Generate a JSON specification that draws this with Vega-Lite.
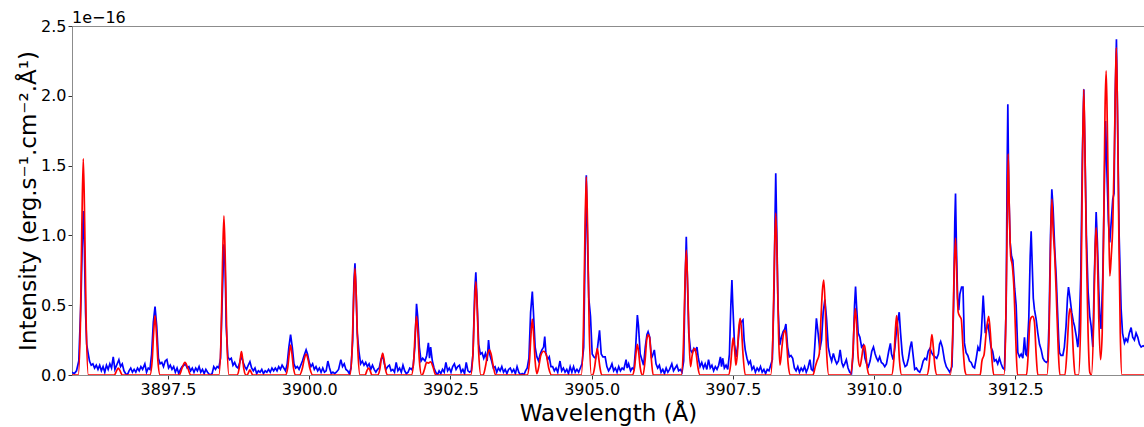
{
"$schema": "https://vega.github.io/schema/vega-lite/v6.json",
"width": 1072,
"height": 349,
"autosize": {"type": "none"},
"padding": {"left": 72, "top": 26, "right": 0, "bottom": 52},
"background": "white",
"title": {"text": "1e−16", "anchor": "start", "frame": "group", "fontSize": 16, "fontWeight": "normal", "font": "DejaVu Sans", "color": "#000000", "offset": -8},
"config": {
  "view": {"stroke": "#8c8c8c", "strokeWidth": 1},
  "axis": {"grid": false, "labelFont": "DejaVu Sans", "titleFont": "DejaVu Sans", "labelFontSize": 16, "titleFontSize": 23, "titleFontWeight": "normal", "labelColor": "#000000", "titleColor": "#000000", "domainColor": "#8c8c8c", "tickColor": "#333333", "tickSize": 4, "labelPadding": 2}
},
"datasets": {
"obs": [
{"w":3895.80,"i":0.02},{"w":3895.84,"i":0.01},{"w":3895.88,"i":0.03},{"w":3895.92,"i":0.10},{"w":3895.96,"i":0.55},{"w":3895.985,"i":1.0},{"w":3896.00,"i":1.175},{"w":3896.02,"i":0.9},{"w":3896.04,"i":0.45},{"w":3896.06,"i":0.22},{"w":3896.08,"i":0.17},{"w":3896.11,"i":0.10},{"w":3896.14,"i":0.07},{"w":3896.17,"i":0.08},{"w":3896.20,"i":0.05},{"w":3896.23,"i":0.07},{"w":3896.26,"i":0.04},{"w":3896.29,"i":0.07},{"w":3896.32,"i":0.03},{"w":3896.35,"i":0.06},{"w":3896.38,"i":0.02},{"w":3896.41,"i":0.07},{"w":3896.44,"i":0.04},{"w":3896.47,"i":0.08},{"w":3896.50,"i":0.05},{"w":3896.53,"i":0.13},{"w":3896.56,"i":0.04},{"w":3896.59,"i":0.07},{"w":3896.63,"i":0.11},{"w":3896.66,"i":0.06},{"w":3896.69,"i":0.08},{"w":3896.72,"i":0.03},{"w":3896.75,"i":0.01},{"w":3896.78,"i":0.0},{"w":3896.81,"i":0.03},{"w":3896.84,"i":0.05},{"w":3896.87,"i":0.02},{"w":3896.90,"i":0.04},{"w":3896.93,"i":0.02},{"w":3896.96,"i":0.05},{"w":3896.99,"i":0.03},{"w":3897.02,"i":0.06},{"w":3897.05,"i":0.04},{"w":3897.09,"i":0.08},{"w":3897.12,"i":0.02},{"w":3897.15,"i":0.05},{"w":3897.18,"i":0.04},{"w":3897.21,"i":0.15},{"w":3897.24,"i":0.38},{"w":3897.27,"i":0.49},{"w":3897.30,"i":0.35},{"w":3897.33,"i":0.12},{"w":3897.36,"i":0.08},{"w":3897.39,"i":0.09},{"w":3897.42,"i":0.06},{"w":3897.45,"i":0.10},{"w":3897.48,"i":0.11},{"w":3897.51,"i":0.05},{"w":3897.54,"i":0.07},{"w":3897.57,"i":0.04},{"w":3897.60,"i":0.06},{"w":3897.63,"i":0.02},{"w":3897.66,"i":0.05},{"w":3897.69,"i":0.01},{"w":3897.72,"i":0.04},{"w":3897.75,"i":0.06},{"w":3897.78,"i":0.07},{"w":3897.81,"i":0.08},{"w":3897.84,"i":0.05},{"w":3897.87,"i":0.06},{"w":3897.90,"i":0.03},{"w":3897.93,"i":0.05},{"w":3897.96,"i":0.02},{"w":3897.99,"i":0.05},{"w":3898.02,"i":0.03},{"w":3898.05,"i":0.06},{"w":3898.08,"i":0.02},{"w":3898.11,"i":0.04},{"w":3898.14,"i":0.01},{"w":3898.17,"i":0.04},{"w":3898.20,"i":0.02},{"w":3898.24,"i":0.0},{"w":3898.28,"i":0.01},{"w":3898.31,"i":0.06},{"w":3898.34,"i":0.04},{"w":3898.37,"i":0.06},{"w":3898.40,"i":0.05},{"w":3898.43,"i":0.12},{"w":3898.46,"i":0.55},{"w":3898.49,"i":0.936},{"w":3898.51,"i":0.8},{"w":3898.53,"i":0.35},{"w":3898.56,"i":0.13},{"w":3898.59,"i":0.11},{"w":3898.62,"i":0.12},{"w":3898.65,"i":0.07},{"w":3898.68,"i":0.09},{"w":3898.71,"i":0.06},{"w":3898.74,"i":0.05},{"w":3898.77,"i":0.09},{"w":3898.80,"i":0.14},{"w":3898.83,"i":0.09},{"w":3898.86,"i":0.06},{"w":3898.89,"i":0.04},{"w":3898.92,"i":0.07},{"w":3898.95,"i":0.095},{"w":3898.98,"i":0.05},
{"w":3899.01,"i":0.03},{"w":3899.04,"i":0.05},{"w":3899.07,"i":0.01},{"w":3899.10,"i":0.03},{"w":3899.13,"i":0.02},{"w":3899.16,"i":0.04},{"w":3899.19,"i":0.01},{"w":3899.22,"i":0.03},{"w":3899.25,"i":0.02},{"w":3899.28,"i":0.04},{"w":3899.31,"i":0.02},{"w":3899.34,"i":0.05},{"w":3899.37,"i":0.03},{"w":3899.40,"i":0.05},{"w":3899.43,"i":0.03},{"w":3899.46,"i":0.06},{"w":3899.49,"i":0.04},{"w":3899.52,"i":0.07},{"w":3899.55,"i":0.05},{"w":3899.58,"i":0.03},{"w":3899.61,"i":0.08},{"w":3899.64,"i":0.2},{"w":3899.67,"i":0.29},{"w":3899.70,"i":0.2},{"w":3899.73,"i":0.08},{"w":3899.76,"i":0.05},{"w":3899.79,"i":0.06},{"w":3899.82,"i":0.04},{"w":3899.85,"i":0.07},{"w":3899.88,"i":0.1},{"w":3899.91,"i":0.14},{"w":3899.945,"i":0.18},{"w":3899.97,"i":0.15},{"w":3900.00,"i":0.09},{"w":3900.03,"i":0.06},{"w":3900.06,"i":0.08},{"w":3900.09,"i":0.04},{"w":3900.12,"i":0.06},{"w":3900.15,"i":0.03},{"w":3900.18,"i":0.05},{"w":3900.21,"i":0.02},{"w":3900.24,"i":0.05},{"w":3900.27,"i":0.02},{"w":3900.30,"i":0.03},{"w":3900.33,"i":0.10},{"w":3900.36,"i":0.05},{"w":3900.39,"i":0.01},{"w":3900.42,"i":0.02},{"w":3900.45,"i":0.01},{"w":3900.48,"i":0.02},{"w":3900.52,"i":0.04},{"w":3900.56,"i":0.11},{"w":3900.59,"i":0.06},{"w":3900.62,"i":0.08},{"w":3900.65,"i":0.04},{"w":3900.68,"i":0.03},{"w":3900.71,"i":0.01},{"w":3900.74,"i":0.05},{"w":3900.77,"i":0.25},{"w":3900.79,"i":0.65},{"w":3900.81,"i":0.80},{"w":3900.83,"i":0.6},{"w":3900.85,"i":0.3},{"w":3900.88,"i":0.17},{"w":3900.91,"i":0.08},{"w":3900.94,"i":0.1},{"w":3900.97,"i":0.07},{"w":3901.00,"i":0.09},{"w":3901.03,"i":0.06},{"w":3901.06,"i":0.08},{"w":3901.09,"i":0.04},{"w":3901.12,"i":0.07},{"w":3901.15,"i":0.04},{"w":3901.18,"i":0.02},{"w":3901.21,"i":0.04},{"w":3901.24,"i":0.05},{"w":3901.27,"i":0.11},{"w":3901.30,"i":0.14},{"w":3901.33,"i":0.08},{"w":3901.36,"i":0.04},{"w":3901.39,"i":0.06},{"w":3901.42,"i":0.07},{"w":3901.45,"i":0.03},{"w":3901.48,"i":0.04},{"w":3901.51,"i":0.02},{"w":3901.54,"i":0.09},{"w":3901.57,"i":0.03},{"w":3901.60,"i":0.05},{"w":3901.63,"i":0.02},{"w":3901.66,"i":0.07},{"w":3901.69,"i":0.03},{"w":3901.72,"i":0.01},{"w":3901.75,"i":0.02},{"w":3901.78,"i":0.05},{"w":3901.81,"i":0.04},{"w":3901.84,"i":0.06},{"w":3901.87,"i":0.2},{"w":3901.90,"i":0.51},{"w":3901.92,"i":0.42},{"w":3901.95,"i":0.2},{"w":3901.98,"i":0.1},{"w":3902.01,"i":0.12},{"w":3902.05,"i":0.1},{"w":3902.08,"i":0.14},{"w":3902.11,"i":0.23},{"w":3902.13,"i":0.12},{"w":3902.15,"i":0.2},{"w":3902.18,"i":0.1},{"w":3902.21,"i":0.05},{"w":3902.24,"i":0.02},{"w":3902.27,"i":0.0},{"w":3902.30,"i":0.03},{"w":3902.33,"i":0.01},{"w":3902.36,"i":0.04},{"w":3902.39,"i":0.02},{"w":3902.42,"i":0.09},{"w":3902.45,"i":0.03},{"w":3902.48,"i":0.05},{"w":3902.51,"i":0.02},{"w":3902.54,"i":0.06},{"w":3902.57,"i":0.08},{"w":3902.60,"i":0.04},{"w":3902.63,"i":0.06},{"w":3902.66,"i":0.07},{"w":3902.69,"i":0.02},{"w":3902.72,"i":0.04},{"w":3902.75,"i":0.01},{"w":3902.78,"i":0.09},{"w":3902.81,"i":0.03},{"w":3902.84,"i":0.02},{"w":3902.87,"i":0.03},{"w":3902.90,"i":0.15},{"w":3902.93,"i":0.6},{"w":3902.95,"i":0.735},{"w":3902.97,"i":0.55},{"w":3903.00,"i":0.22},{"w":3903.03,"i":0.15},{"w":3903.06,"i":0.16},{"w":3903.09,"i":0.12},{"w":3903.12,"i":0.155},{"w":3903.15,"i":0.1},{"w":3903.175,"i":0.25},{"w":3903.20,"i":0.14},{"w":3903.23,"i":0.1},{"w":3903.26,"i":0.05},{"w":3903.29,"i":0.06},{"w":3903.32,"i":0.02},{"w":3903.35,"i":0.05},{"w":3903.38,"i":0.03},{"w":3903.41,"i":0.06},{"w":3903.44,"i":0.02},{"w":3903.47,"i":0.04},{"w":3903.50,"i":0.01},{"w":3903.53,"i":0.04},{"w":3903.56,"i":0.05},{"w":3903.59,"i":0.02},{"w":3903.62,"i":0.04},{"w":3903.65,"i":0.01},{"w":3903.68,"i":0.06},{"w":3903.71,"i":0.02},{"w":3903.74,"i":0.0},{"w":3903.77,"i":0.01},{"w":3903.80,"i":0.0},{"w":3903.83,"i":0.03},{"w":3903.86,"i":0.05},{"w":3903.89,"i":0.12},{"w":3903.92,"i":0.45},{"w":3903.95,"i":0.597},{"w":3903.97,"i":0.45},{"w":3904.00,"i":0.2},{"w":3904.03,"i":0.13},{"w":3904.06,"i":0.1},{"w":3904.09,"i":0.15},{"w":3904.12,"i":0.18},{"w":3904.15,"i":0.2},{"w":3904.17,"i":0.275},{"w":3904.19,"i":0.16},{"w":3904.22,"i":0.11},{"w":3904.25,"i":0.13},{"w":3904.28,"i":0.06},{"w":3904.31,"i":0.06},{"w":3904.34,"i":0.03},{"w":3904.37,"i":0.05},{"w":3904.40,"i":0.02},{"w":3904.44,"i":0.10},{"w":3904.47,"i":0.03},{"w":3904.50,"i":0.05},{"w":3904.53,"i":0.02},{"w":3904.56,"i":0.04},{"w":3904.59,"i":0.01},{"w":3904.62,"i":0.06},{"w":3904.65,"i":0.02},{"w":3904.68,"i":0.06},{"w":3904.71,"i":0.02},{"w":3904.74,"i":0.04},{"w":3904.77,"i":0.02},{"w":3904.80,"i":0.05},{"w":3904.83,"i":0.08},{"w":3904.86,"i":0.2},{"w":3904.885,"i":0.9},{"w":3904.906,"i":1.43},{"w":3904.93,"i":0.9},{"w":3904.95,"i":0.55},{"w":3904.98,"i":0.42},{"w":3905.01,"i":0.15},{"w":3905.04,"i":0.13},{"w":3905.07,"i":0.12},{"w":3905.10,"i":0.18},{"w":3905.14,"i":0.32},{"w":3905.17,"i":0.15},{"w":3905.20,"i":0.13},
{"w":3905.24,"i":0.13},{"w":3905.27,"i":0.06},{"w":3905.30,"i":0.03},{"w":3905.33,"i":0.05},{"w":3905.36,"i":0.08},{"w":3905.39,"i":0.03},{"w":3905.42,"i":0.05},{"w":3905.45,"i":0.02},{"w":3905.48,"i":0.06},{"w":3905.51,"i":0.03},{"w":3905.54,"i":0.05},{"w":3905.57,"i":0.04},{"w":3905.61,"i":0.11},{"w":3905.63,"i":0.05},{"w":3905.655,"i":0.08},{"w":3905.69,"i":0.03},{"w":3905.72,"i":0.05},{"w":3905.75,"i":0.04},{"w":3905.78,"i":0.2},{"w":3905.81,"i":0.43},{"w":3905.83,"i":0.35},{"w":3905.86,"i":0.15},{"w":3905.89,"i":0.11},{"w":3905.92,"i":0.07},{"w":3905.95,"i":0.2},{"w":3905.98,"i":0.29},{"w":3906.00,"i":0.31},{"w":3906.03,"i":0.27},{"w":3906.06,"i":0.12},{"w":3906.08,"i":0.14},{"w":3906.11,"i":0.18},{"w":3906.14,"i":0.08},{"w":3906.17,"i":0.05},{"w":3906.20,"i":0.07},{"w":3906.23,"i":0.02},{"w":3906.26,"i":0.04},{"w":3906.29,"i":0.01},{"w":3906.32,"i":0.05},{"w":3906.35,"i":0.02},{"w":3906.38,"i":0.04},{"w":3906.42,"i":0.08},{"w":3906.45,"i":0.03},{"w":3906.48,"i":0.05},{"w":3906.51,"i":0.07},{"w":3906.54,"i":0.03},{"w":3906.57,"i":0.04},{"w":3906.60,"i":0.02},{"w":3906.63,"i":0.1},{"w":3906.655,"i":0.65},{"w":3906.676,"i":0.99},{"w":3906.695,"i":0.7},{"w":3906.72,"i":0.3},{"w":3906.75,"i":0.18},{"w":3906.78,"i":0.16},{"w":3906.81,"i":0.19},{"w":3906.84,"i":0.17},{"w":3906.865,"i":0.2},{"w":3906.89,"i":0.12},{"w":3906.92,"i":0.06},{"w":3906.95,"i":0.09},{"w":3906.98,"i":0.05},{"w":3907.01,"i":0.08},{"w":3907.04,"i":0.04},{"w":3907.07,"i":0.11},{"w":3907.10,"i":0.05},{"w":3907.13,"i":0.07},{"w":3907.16,"i":0.03},{"w":3907.19,"i":0.06},{"w":3907.22,"i":0.04},{"w":3907.25,"i":0.07},{"w":3907.28,"i":0.13},{"w":3907.30,"i":0.06},{"w":3907.32,"i":0.12},{"w":3907.35,"i":0.05},{"w":3907.38,"i":0.07},{"w":3907.41,"i":0.04},{"w":3907.44,"i":0.15},{"w":3907.465,"i":0.5},{"w":3907.484,"i":0.68},{"w":3907.50,"i":0.5},{"w":3907.53,"i":0.22},{"w":3907.56,"i":0.13},{"w":3907.59,"i":0.22},{"w":3907.62,"i":0.36},{"w":3907.65,"i":0.38},{"w":3907.68,"i":0.394},{"w":3907.70,"i":0.25},{"w":3907.72,"i":0.18},{"w":3907.75,"i":0.12},{"w":3907.78,"i":0.08},{"w":3907.81,"i":0.1},{"w":3907.84,"i":0.04},{"w":3907.87,"i":0.06},{"w":3907.90,"i":0.02},{"w":3907.93,"i":0.05},{"w":3907.96,"i":0.03},{"w":3907.99,"i":0.06},{"w":3908.02,"i":0.02},{"w":3908.05,"i":0.04},{"w":3908.08,"i":0.01},{"w":3908.11,"i":0.04},{"w":3908.14,"i":0.03},{"w":3908.17,"i":0.07},{"w":3908.20,"i":0.11},{"w":3908.23,"i":0.6},{"w":3908.25,"i":1.2},{"w":3908.26,"i":1.445},{"w":3908.275,"i":1.1},{"w":3908.30,"i":0.5},{"w":3908.33,"i":0.215},{"w":3908.36,"i":0.27},{"w":3908.39,"i":0.31},{"w":3908.42,"i":0.33},{"w":3908.44,"i":0.365},{"w":3908.47,"i":0.2},{"w":3908.50,"i":0.13},{"w":3908.53,"i":0.14},{"w":3908.56,"i":0.12},{"w":3908.59,"i":0.05},{"w":3908.62,"i":0.03},{"w":3908.65,"i":0.06},{"w":3908.68,"i":0.02},{"w":3908.71,"i":0.05},{"w":3908.74,"i":0.03},{"w":3908.77,"i":0.06},{"w":3908.80,"i":0.02},{"w":3908.83,"i":0.05},{"w":3908.865,"i":0.11},{"w":3908.89,"i":0.04},{"w":3908.92,"i":0.03},{"w":3908.95,"i":0.2},{"w":3908.98,"i":0.406},{"w":3909.01,"i":0.3},{"w":3909.04,"i":0.18},{"w":3909.07,"i":0.25},{"w":3909.10,"i":0.45},{"w":3909.13,"i":0.54},{"w":3909.16,"i":0.4},{"w":3909.19,"i":0.2},{"w":3909.22,"i":0.14},{"w":3909.25,"i":0.1},{"w":3909.28,"i":0.155},{"w":3909.31,"i":0.11},{"w":3909.34,"i":0.08},{"w":3909.37,"i":0.1},{"w":3909.40,"i":0.18},{"w":3909.43,"i":0.09},{"w":3909.455,"i":0.06},{"w":3909.48,"i":0.08},{"w":3909.51,"i":0.11},{"w":3909.54,"i":0.05},{"w":3909.57,"i":0.02},{"w":3909.60,"i":0.01},{"w":3909.63,"i":0.15},{"w":3909.655,"i":0.5},{"w":3909.673,"i":0.633},{"w":3909.69,"i":0.5},{"w":3909.72,"i":0.3},{"w":3909.75,"i":0.27},{"w":3909.78,"i":0.2},{"w":3909.81,"i":0.215},{"w":3909.84,"i":0.12},{"w":3909.87,"i":0.08},{"w":3909.90,"i":0.06},{"w":3909.93,"i":0.1},{"w":3909.96,"i":0.17},{"w":3909.99,"i":0.2},{"w":3910.02,"i":0.15},{"w":3910.045,"i":0.12},{"w":3910.07,"i":0.1},{"w":3910.10,"i":0.13},{"w":3910.13,"i":0.09},{"w":3910.16,"i":0.08},{"w":3910.19,"i":0.06},{"w":3910.22,"i":0.08},{"w":3910.26,"i":0.17},{"w":3910.29,"i":0.227},{"w":3910.31,"i":0.15},{"w":3910.34,"i":0.11},{"w":3910.37,"i":0.2},{"w":3910.40,"i":0.33},{"w":3910.425,"i":0.4},{"w":3910.446,"i":0.45},{"w":3910.47,"i":0.3},{"w":3910.50,"i":0.15},{"w":3910.52,"i":0.1},{"w":3910.55,"i":0.06},{"w":3910.58,"i":0.07},{"w":3910.61,"i":0.12},{"w":3910.64,"i":0.2},{"w":3910.665,"i":0.24},{"w":3910.69,"i":0.15},{"w":3910.72,"i":0.04},{"w":3910.75,"i":0.05},{"w":3910.78,"i":0.03},{"w":3910.81,"i":0.02},{"w":3910.84,"i":0.05},{"w":3910.87,"i":0.1},{"w":3910.90,"i":0.12},{"w":3910.93,"i":0.11},{"w":3910.96,"i":0.17},{"w":3910.99,"i":0.19},{"w":3911.02,"i":0.16},{"w":3911.05,"i":0.14},{"w":3911.08,"i":0.13},{"w":3911.11,"i":0.12},{"w":3911.14,"i":0.15},{"w":3911.16,"i":0.22},{"w":3911.18,"i":0.24},{"w":3911.21,"i":0.2},{"w":3911.25,"i":0.1},{"w":3911.28,"i":0.06},{"w":3911.31,"i":0.04},{"w":3911.34,"i":0.02},{"w":3911.38,"i":0.06},{"w":3911.41,"i":0.5},{"w":3911.43,"i":1.1},{"w":3911.443,"i":1.30},{"w":3911.46,"i":0.9},{"w":3911.48,"i":0.55},{"w":3911.50,"i":0.465},{"w":3911.52,"i":0.58},{"w":3911.55,"i":0.63},{"w":3911.575,"i":0.63},{"w":3911.60,"i":0.23},{"w":3911.63,"i":0.16},{"w":3911.66,"i":0.14},{"w":3911.69,"i":0.1},{"w":3911.72,"i":0.09},{"w":3911.75,"i":0.06},{"w":3911.78,"i":0.05},{"w":3911.81,"i":0.12},{"w":3911.84,"i":0.2},{"w":3911.87,"i":0.17},{"w":3911.90,"i":0.3},{"w":3911.933,"i":0.57},{"w":3911.95,"i":0.45},{"w":3911.97,"i":0.3},{"w":3911.99,"i":0.33},{"w":3912.015,"i":0.37},{"w":3912.04,"i":0.3},{"w":3912.07,"i":0.2},{"w":3912.10,"i":0.17},{"w":3912.13,"i":0.1},{"w":3912.16,"i":0.11},{"w":3912.19,"i":0.08},{"w":3912.22,"i":0.12},{"w":3912.25,"i":0.08},{"w":3912.28,"i":0.05},{"w":3912.31,"i":0.04},{"w":3912.34,"i":0.5},{"w":3912.355,"i":1.4},{"w":3912.369,"i":1.94},{"w":3912.385,"i":1.35},{"w":3912.41,"i":0.95},{"w":3912.435,"i":0.85},{"w":3912.458,"i":0.82},{"w":3912.49,"i":0.62},{"w":3912.516,"i":0.5},{"w":3912.546,"i":0.16},{"w":3912.575,"i":0.13},{"w":3912.605,"i":0.15},{"w":3912.635,"i":0.12},{"w":3912.664,"i":0.27},{"w":3912.685,"i":0.15},{"w":3912.705,"i":0.14},{"w":3912.74,"i":0.4},{"w":3912.765,"i":0.85},{"w":3912.782,"i":1.03},{"w":3912.80,"i":0.8},{"w":3912.82,"i":0.55},{"w":3912.84,"i":0.47},{"w":3912.87,"i":0.4},{"w":3912.90,"i":0.3},{"w":3912.93,"i":0.22},{"w":3912.96,"i":0.18},{"w":3912.99,"i":0.12},{"w":3913.018,"i":0.1},{"w":3913.05,"i":0.09},{"w":3913.077,"i":0.1},{"w":3913.10,"i":0.4},{"w":3913.125,"i":1.0},{"w":3913.148,"i":1.33},{"w":3913.17,"i":1.2},{"w":3913.20,"i":0.9},{"w":3913.225,"i":0.71},{"w":3913.25,"i":0.45},{"w":3913.27,"i":0.25},{"w":3913.284,"i":0.16},{"w":3913.31,"i":0.14},{"w":3913.343,"i":0.14},{"w":3913.37,"i":0.2},{"w":3913.40,"i":0.35},{"w":3913.425,"i":0.55},{"w":3913.443,"i":0.63},{"w":3913.47,"i":0.55},{"w":3913.50,"i":0.45},{"w":3913.53,"i":0.38},{"w":3913.55,"i":0.35},{"w":3913.58,"i":0.28},{"w":3913.608,"i":0.2},{"w":3913.63,"i":0.3},{"w":3913.66,"i":0.7},{"w":3913.69,"i":1.6},{"w":3913.714,"i":2.046},{"w":3913.735,"i":1.6},{"w":3913.76,"i":1.0},{"w":3913.79,"i":0.6},{"w":3913.82,"i":0.42},{"w":3913.844,"i":0.35},{"w":3913.874,"i":0.2},{"w":3913.90,"i":0.7},{"w":3913.933,"i":1.168},{"w":3913.955,"i":0.95},{"w":3913.98,"i":0.6},{"w":3914.00,"i":0.4},{"w":3914.02,"i":0.33},{"w":3914.05,"i":0.7},{"w":3914.08,"i":1.4},{"w":3914.10,"i":1.82},{"w":3914.12,"i":1.5},{"w":3914.15,"i":1.1},{"w":3914.174,"i":0.95},{"w":3914.20,"i":1.1},{"w":3914.227,"i":1.26},{"w":3914.25,"i":1.3},{"w":3914.27,"i":2.0},{"w":3914.292,"i":2.405},{"w":3914.31,"i":1.9},{"w":3914.34,"i":1.0},{"w":3914.375,"i":0.47},{"w":3914.40,"i":0.3},{"w":3914.434,"i":0.23},{"w":3914.46,"i":0.26},{"w":3914.49,"i":0.24},{"w":3914.52,"i":0.3},{"w":3914.552,"i":0.34},{"w":3914.58,"i":0.27},{"w":3914.61,"i":0.25},{"w":3914.64,"i":0.3},{"w":3914.67,"i":0.27},{"w":3914.70,"i":0.22},{"w":3914.73,"i":0.2},{"w":3914.764,"i":0.21},{"w":3914.80,"i":0.2}
],
"model": [
{"w":3895.80,"i":0},{"w":3895.91,"i":0},{"w":3895.95,"i":0.39},{"w":3895.975,"i":1.08},{"w":3896.00,"i":1.55},{"w":3896.025,"i":1.08},{"w":3896.05,"i":0.39},{"w":3896.09,"i":0},
{"w":3896.55,"i":0},{"w":3896.595,"i":0.035},{"w":3896.62,"i":0.05},{"w":3896.645,"i":0.035},{"w":3896.69,"i":0},
{"w":3897.18,"i":0},{"w":3897.22,"i":0.106},{"w":3897.245,"i":0.3},{"w":3897.27,"i":0.425},{"w":3897.295,"i":0.3},{"w":3897.32,"i":0.106},{"w":3897.36,"i":0},
{"w":3897.70,"i":0},{"w":3897.75,"i":0.05},{"w":3897.80,"i":0.09},{"w":3897.85,"i":0.05},{"w":3897.90,"i":0},
{"w":3898.40,"i":0},{"w":3898.44,"i":0.285},{"w":3898.465,"i":0.8},{"w":3898.49,"i":1.14},{"w":3898.515,"i":0.8},{"w":3898.54,"i":0.285},{"w":3898.58,"i":0},
{"w":3898.72,"i":0},{"w":3898.76,"i":0.05},{"w":3898.78,"i":0.12},{"w":3898.80,"i":0.167},{"w":3898.82,"i":0.12},{"w":3898.84,"i":0.05},{"w":3898.88,"i":0},
{"w":3898.90,"i":0},{"w":3898.95,"i":0.036},{"w":3899.00,"i":0},
{"w":3899.58,"i":0},{"w":3899.62,"i":0.054},{"w":3899.645,"i":0.15},{"w":3899.67,"i":0.215},{"w":3899.695,"i":0.15},{"w":3899.72,"i":0.054},{"w":3899.76,"i":0},
{"w":3899.83,"i":0},{"w":3899.88,"i":0.05},{"w":3899.91,"i":0.11},{"w":3899.945,"i":0.15},{"w":3899.98,"i":0.11},{"w":3900.01,"i":0.05},{"w":3900.06,"i":0},
{"w":3900.72,"i":0},{"w":3900.76,"i":0.19},{"w":3900.785,"i":0.535},{"w":3900.81,"i":0.764},{"w":3900.835,"i":0.535},{"w":3900.86,"i":0.19},{"w":3900.90,"i":0},
{"w":3900.99,"i":0},{"w":3901.02,"i":0.03},{"w":3901.05,"i":0.05},{"w":3901.08,"i":0.03},{"w":3901.11,"i":0},
{"w":3901.21,"i":0},{"w":3901.25,"i":0.04},{"w":3901.275,"i":0.11},{"w":3901.30,"i":0.155},{"w":3901.325,"i":0.11},{"w":3901.35,"i":0.04},{"w":3901.39,"i":0},
{"w":3901.81,"i":0},{"w":3901.85,"i":0.105},{"w":3901.875,"i":0.295},{"w":3901.90,"i":0.42},{"w":3901.925,"i":0.295},{"w":3901.95,"i":0.105},{"w":3901.99,"i":0},
{"w":3902.00,"i":0},{"w":3902.04,"i":0.04},{"w":3902.08,"i":0.09},{"w":3902.11,"i":0.085},{"w":3902.15,"i":0.095},{"w":3902.19,"i":0.06},{"w":3902.24,"i":0},
{"w":3902.86,"i":0},{"w":3902.90,"i":0.167},{"w":3902.925,"i":0.47},{"w":3902.95,"i":0.668},{"w":3902.975,"i":0.47},{"w":3903.00,"i":0.167},{"w":3903.04,"i":0},
{"w":3903.08,"i":0},{"w":3903.12,"i":0.06},{"w":3903.16,"i":0.15},{"w":3903.19,"i":0.18},{"w":3903.22,"i":0.15},{"w":3903.26,"i":0.06},{"w":3903.30,"i":0},
{"w":3903.86,"i":0},{"w":3903.90,"i":0.1},{"w":3903.925,"i":0.28},{"w":3903.95,"i":0.40},{"w":3903.975,"i":0.28},{"w":3904.00,"i":0.1},{"w":3904.03,"i":0.01},{"w":3904.06,"i":0.05},{"w":3904.10,"i":0.14},{"w":3904.15,"i":0.17},{"w":3904.20,"i":0.14},{"w":3904.24,"i":0.05},{"w":3904.29,"i":0},
{"w":3904.816,"i":0},{"w":3904.856,"i":0.355},{"w":3904.881,"i":0.994},{"w":3904.906,"i":1.42},{"w":3904.931,"i":0.994},{"w":3904.956,"i":0.355},{"w":3904.996,"i":0},
{"w":3905.02,"i":0},{"w":3905.055,"i":0.06},{"w":3905.08,"i":0.14},{"w":3905.10,"i":0.19},{"w":3905.12,"i":0.14},{"w":3905.145,"i":0.06},{"w":3905.18,"i":0},
{"w":3905.72,"i":0},{"w":3905.76,"i":0.055},{"w":3905.785,"i":0.155},{"w":3905.81,"i":0.22},{"w":3905.835,"i":0.155},{"w":3905.86,"i":0.055},{"w":3905.90,"i":0},
{"w":3905.91,"i":0},{"w":3905.95,"i":0.12},{"w":3905.975,"i":0.25},{"w":3906.00,"i":0.287},{"w":3906.025,"i":0.27},{"w":3906.05,"i":0.15},{"w":3906.09,"i":0},
{"w":3906.586,"i":0},{"w":3906.626,"i":0.224},{"w":3906.651,"i":0.627},{"w":3906.676,"i":0.895},{"w":3906.701,"i":0.627},{"w":3906.726,"i":0.25},{"w":3906.75,"i":0.06},{"w":3906.78,"i":0.14},{"w":3906.81,"i":0.185},{"w":3906.83,"i":0.19},{"w":3906.855,"i":0.14},{"w":3906.88,"i":0.06},{"w":3906.92,"i":0},
{"w":3907.42,"i":0},{"w":3907.46,"i":0.07},{"w":3907.485,"i":0.19},{"w":3907.507,"i":0.267},{"w":3907.53,"i":0.19},{"w":3907.555,"i":0.07},{"w":3907.58,"i":0.15},{"w":3907.605,"i":0.33},{"w":3907.63,"i":0.406},{"w":3907.655,"i":0.32},{"w":3907.68,"i":0.15},{"w":3907.72,"i":0},
{"w":3908.17,"i":0},{"w":3908.21,"i":0.29},{"w":3908.235,"i":0.81},{"w":3908.26,"i":1.16},{"w":3908.285,"i":0.81},{"w":3908.31,"i":0.29},{"w":3908.335,"i":0.07},{"w":3908.37,"i":0.2},{"w":3908.40,"i":0.3},{"w":3908.43,"i":0.32},{"w":3908.455,"i":0.22},{"w":3908.48,"i":0.08},{"w":3908.52,"i":0},
{"w":3908.92,"i":0},{"w":3908.96,"i":0.06},{"w":3908.99,"i":0.1},{"w":3909.03,"i":0.15},{"w":3909.06,"i":0.4},{"w":3909.085,"i":0.6},{"w":3909.11,"i":0.68},{"w":3909.135,"i":0.5},{"w":3909.16,"i":0.17},{"w":3909.20,"i":0},
{"w":3909.58,"i":0},{"w":3909.62,"i":0.12},{"w":3909.645,"i":0.335},{"w":3909.67,"i":0.478},{"w":3909.695,"i":0.335},{"w":3909.72,"i":0.12},{"w":3909.75,"i":0.06},{"w":3909.78,"i":0.12},{"w":3909.81,"i":0.2},{"w":3909.83,"i":0.215},{"w":3909.855,"i":0.15},{"w":3909.88,"i":0.05},{"w":3909.92,"i":0},
{"w":3910.31,"i":0},{"w":3910.35,"i":0.106},{"w":3910.375,"i":0.3},{"w":3910.40,"i":0.425},{"w":3910.425,"i":0.3},{"w":3910.45,"i":0.106},{"w":3910.49,"i":0},
{"w":3910.935,"i":0},{"w":3910.975,"i":0.072},{"w":3911.00,"i":0.2},{"w":3911.025,"i":0.29},{"w":3911.05,"i":0.2},{"w":3911.075,"i":0.072},{"w":3911.115,"i":0},
{"w":3911.35,"i":0},{"w":3911.39,"i":0.245},{"w":3911.415,"i":0.686},{"w":3911.443,"i":0.98},{"w":3911.465,"i":0.7},{"w":3911.49,"i":0.45},{"w":3911.52,"i":0.42},{"w":3911.545,"i":0.40},{"w":3911.575,"i":0.2},{"w":3911.61,"i":0.03},{"w":3911.64,"i":0},
{"w":3911.88,"i":0},{"w":3911.91,"i":0.1},{"w":3911.95,"i":0.15},{"w":3911.99,"i":0.32},{"w":3912.03,"i":0.42},{"w":3912.06,"i":0.3},{"w":3912.09,"i":0.1},{"w":3912.12,"i":0},
{"w":3912.30,"i":0},{"w":3912.33,"i":0.3},{"w":3912.355,"i":1.0},{"w":3912.375,"i":1.585},{"w":3912.395,"i":1.2},{"w":3912.42,"i":0.85},{"w":3912.45,"i":0.78},{"w":3912.48,"i":0.6},{"w":3912.51,"i":0.25},{"w":3912.54,"i":0},
{"w":3912.70,"i":0},{"w":3912.73,"i":0.15},{"w":3912.76,"i":0.38},{"w":3912.78,"i":0.41},{"w":3912.81,"i":0.42},{"w":3912.84,"i":0.38},{"w":3912.87,"i":0.15},{"w":3912.90,"i":0},
{"w":3913.06,"i":0},{"w":3913.10,"i":0.3},{"w":3913.125,"i":0.9},{"w":3913.148,"i":1.26},{"w":3913.17,"i":1.05},{"w":3913.20,"i":0.85},{"w":3913.225,"i":0.6},{"w":3913.26,"i":0.2},{"w":3913.29,"i":0},
{"w":3913.38,"i":0},{"w":3913.42,"i":0.2},{"w":3913.45,"i":0.42},{"w":3913.47,"i":0.475},{"w":3913.50,"i":0.4},{"w":3913.53,"i":0.15},{"w":3913.56,"i":0},
{"w":3913.62,"i":0},{"w":3913.66,"i":0.4},{"w":3913.69,"i":1.5},{"w":3913.714,"i":2.046},{"w":3913.735,"i":1.6},{"w":3913.76,"i":0.9},{"w":3913.79,"i":0.3},{"w":3913.82,"i":0.02},
{"w":3913.85,"i":0.0},{"w":3913.89,"i":0.4},{"w":3913.915,"i":0.9},{"w":3913.933,"i":1.055},{"w":3913.955,"i":0.85},{"w":3913.98,"i":0.4},{"w":3914.01,"i":0.11},
{"w":3914.04,"i":0.3},{"w":3914.07,"i":1.2},{"w":3914.09,"i":1.9},{"w":3914.11,"i":2.178},{"w":3914.13,"i":1.8},{"w":3914.155,"i":1.1},{"w":3914.175,"i":0.71},{"w":3914.20,"i":0.85},{"w":3914.227,"i":1.07},{"w":3914.255,"i":1.6},{"w":3914.275,"i":2.1},{"w":3914.29,"i":2.345},{"w":3914.31,"i":1.9},{"w":3914.335,"i":1.0},{"w":3914.36,"i":0.3},{"w":3914.39,"i":0},{"w":3914.80,"i":0}
]
},
"layer": [
{
 "data": {"name": "obs"},
 "mark": {"type": "line", "color": "#0000ff", "strokeWidth": 1.7, "clip": true},
 "encoding": {
  "x": {"field": "w", "type": "quantitative", "scale": {"domain": [3895.8, 3914.78], "nice": false, "zero": false},
        "axis": {"values": [3897.5, 3900, 3902.5, 3905, 3907.5, 3910, 3912.5], "format": ".1f", "title": "Wavelength (Å)", "titlePadding": 5}},
  "y": {"field": "i", "type": "quantitative", "scale": {"domain": [0, 2.5], "nice": false},
        "axis": {"values": [0, 0.5, 1, 1.5, 2, 2.5], "format": ".1f", "title": "Intensity (erg.s⁻¹.cm⁻².Å¹)", "titlePadding": 0}}
 }
},
{
 "data": {"name": "model"},
 "mark": {"type": "line", "color": "#ff0000", "strokeWidth": 1.7, "clip": true, "interpolate": "monotone"},
 "encoding": {
  "x": {"field": "w", "type": "quantitative"},
  "y": {"field": "i", "type": "quantitative"}
 }
}
]
}
